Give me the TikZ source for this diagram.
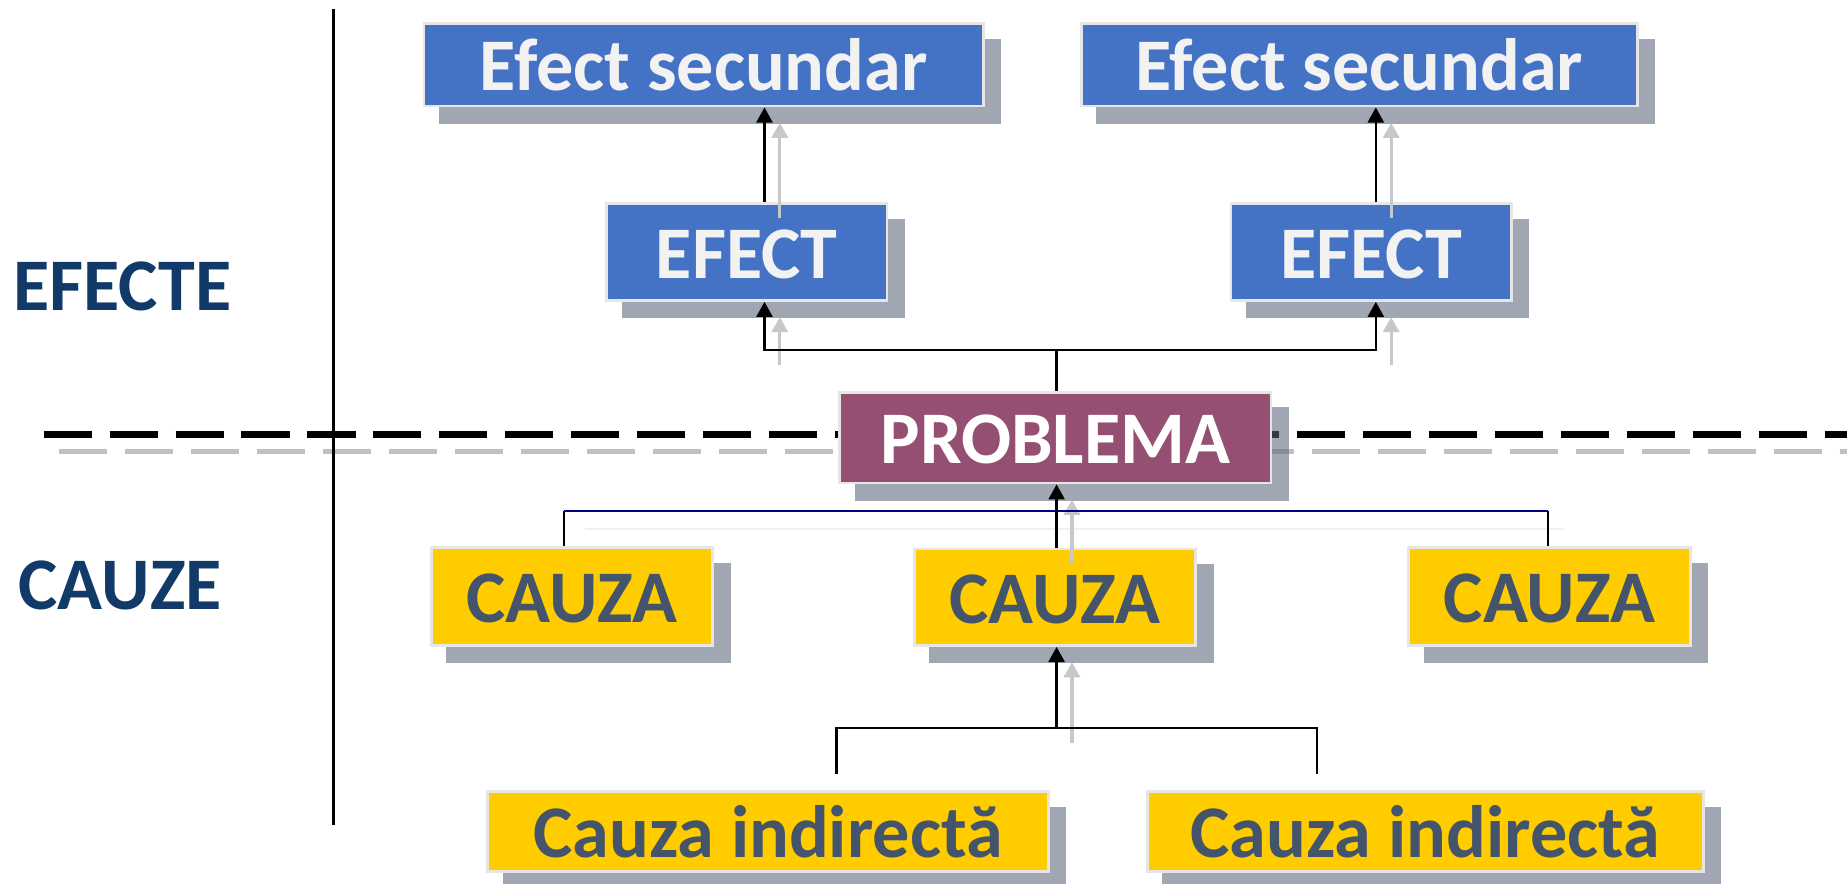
\documentclass[tikz,border=0pt]{standalone}
\usepackage{fontspec}
\setmainfont{Carlito}
\usetikzlibrary{arrows.meta,calc}
\definecolor{boxblue}{HTML}{4472C4}
\definecolor{boxpurple}{HTML}{954F72}
\definecolor{boxyellow}{HTML}{FFCC00}
\definecolor{yeltext}{HTML}{44546A}
\definecolor{bluetext}{HTML}{F2F2F2}
\definecolor{edgegray}{HTML}{E6E6E6}
\definecolor{shadowc}{HTML}{5A6478}
\definecolor{labelblue}{HTML}{123A68}
\definecolor{navyc}{HTML}{000080}
\definecolor{ghostc}{HTML}{C8C8C8}
\definecolor{faintc}{HTML}{F0F0F0}
\definecolor{dashgray}{HTML}{C0C0C0}
\pgfdeclarelayer{dashes}
\pgfdeclarelayer{shadows}
\pgfsetlayers{dashes,shadows,main}
\begin{document}
\begin{tikzpicture}[x=0.5pt,y=-0.5pt,
  box/.style={rectangle, draw=edgegray, line width=1.2pt, inner sep=0pt,
    font=\fontsize{31.5}{36}\selectfont\bfseries, text height=22pt, text depth=0pt},
  dims/.style 2 args={minimum width=#1*0.5pt, minimum height=#2*0.5pt},
  bluebox/.style={box, fill=boxblue, text=bluetext},
  purplebox/.style={box, fill=boxpurple, text=white},
  yellowbox/.style={box, fill=boxyellow, text=yeltext},
  sidelabel/.style={font=\fontsize{31.5}{36}\selectfont\bfseries, text=labelblue, inner sep=0pt},
  plainline/.style={draw=black, line width=1pt},
  conn/.style={plainline, -{Triangle[length=6.4pt,width=6.8pt]}},
  navyline/.style={draw=navyc, line width=0.9pt},
  ghost/.style={draw=ghostc, line width=1.4pt, -{Triangle[length=6.4pt,width=6.8pt]}},
  shadowbox/.style={fill=shadowc, fill opacity=0.57}
]
\useasboundingbox (0,0) rectangle (1568,750.4);

% separators
\begin{pgfonlayer}{dashes}
\coordinate (dl) at (37,369);
\coordinate (dr) at (1568,369);
\coordinate (gl) at (50,383);
\coordinate (gr) at (1568,383);
\draw[black, line width=3pt, dash pattern=on 20.4pt off 7.6pt] (dl) -- (dr);
\draw[dashgray, line width=2.2pt, dash pattern=on 20.4pt off 7.6pt] (gl) -- (gr);
\coordinate (vt) at (283,8);
\coordinate (vb) at (283,700);
\draw[black, line width=1pt] (vt) -- (vb);
\end{pgfonlayer}

% side labels
\node[sidelabel] (lefecte) at (104,243) {EFECTE};
\node[sidelabel] (lcauze) at (102,497) {CAUZE};

% boxes
\node[bluebox, dims={475}{70}] (es1) at (597.5,55) {Efect secundar};
\node[bluebox, dims={472}{70}] (es2) at (1154,55) {Efect secundar};
\node[bluebox, dims={238}{82}] (ef1) at (634,214) {EFECT};
\node[bluebox, dims={238}{82}] (ef2) at (1164,214) {EFECT};
\node[purplebox, dims={366}{77}] (pb) at (896,371.5) {PROBLEMA};
\node[yellowbox, dims={239}{83}] (c1) at (485.5,506.5) {CAUZA};
\node[yellowbox, dims={239}{82}] (c2) at (895.5,507) {CAUZA};
\node[yellowbox, dims={239}{83}] (c3) at (1315.5,506.5) {CAUZA};
\node[yellowbox, dims={476}{68}] (ci1) at (652,706) {Cauza indirectă};
\node[yellowbox, dims={472}{68}] (ci2) at (1210,706) {Cauza indirectă};

% shadows
\begin{pgfonlayer}{shadows}
\foreach \n in {es1,es2,ef1,ef2,pb,c1,c2,c3,ci1,ci2}
  \fill[shadowbox] ($(\n.south west)+(7pt,-7pt)$) rectangle ($(\n.north east)+(7pt,-7pt)$);
\end{pgfonlayer}

% reference x positions
\coordinate (xl) at (649,0);
\coordinate (xr) at (1168,0);
\coordinate (xm) at (897,0);
\coordinate (jtop) at (897,297);
\coordinate (hl) at (479,434);
\coordinate (hr) at (1314,434);
\coordinate (il) at (710,618);
\coordinate (ir) at (1118,618);
\coordinate (ilend) at (710,657);
\coordinate (irend) at (1118,657);
\coordinate (jb) at (897,618);

% faint shadow of cause bar
\coordinate (fl) at (497,449);
\coordinate (fr) at (1328,449);
\draw[faintc, line width=1pt] (fl) -- (fr);

% ghost (shadow) arrows
\draw[ghost] ($(ef1.north -| xl)+(6.5pt,-6.5pt)$) -- ($(es1.south -| xl)+(6.5pt,-6.5pt)$);
\draw[ghost] ($(ef2.north -| xr)+(6.5pt,-6.5pt)$) -- ($(es2.south -| xr)+(6.5pt,-6.5pt)$);
\draw[ghost] ($(jtop -| xl)+(6.5pt,-6.5pt)$) -- ($(ef1.south -| xl)+(6.5pt,-6.5pt)$);
\draw[ghost] ($(jtop -| xr)+(6.5pt,-6.5pt)$) -- ($(ef2.south -| xr)+(6.5pt,-6.5pt)$);
\draw[ghost] ($(c2.north -| xm)+(6.5pt,-6.5pt)$) -- ($(pb.south -| xm)+(6.5pt,-6.5pt)$);
\draw[ghost] ($(jb)+(6.5pt,-6.5pt)$) -- ($(c2.south -| xm)+(6.5pt,-6.5pt)$);

% connectors: effects
\draw[conn] (ef1.north -| xl) -- (es1.south -| xl);
\draw[conn] (ef2.north -| xr) -- (es2.south -| xr);
\draw[plainline] (pb.north -| xm) -- (jtop);
\draw[conn] (jtop) -| (ef1.south -| xl);
\draw[conn] (jtop) -| (ef2.south -| xr);

% connectors: causes
\draw[plainline] (c1.north -| hl) -- (hl);
\draw[navyline] (hl) -- (hr);
\draw[plainline] (hr) -- (c3.north -| hr);
\draw[conn] (c2.north -| xm) -- (pb.south -| xm);

% indirect causes
\draw[plainline] (ilend) -- (il) -- (ir) -- (irend);
\draw[conn] (jb) -- (c2.south -| xm);
\end{tikzpicture}
\end{document}
